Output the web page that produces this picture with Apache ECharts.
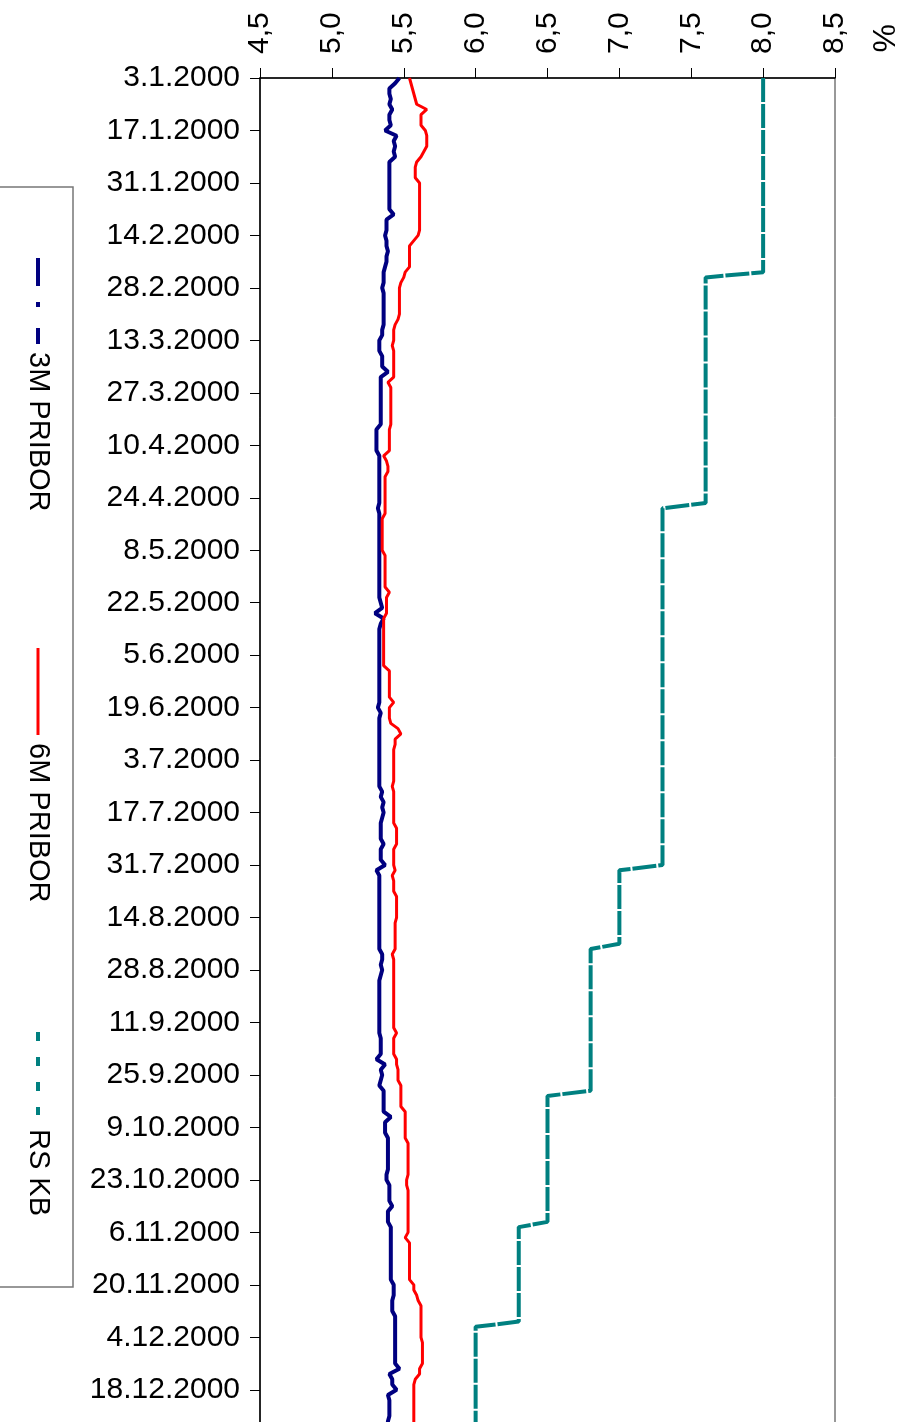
<!DOCTYPE html>
<html>
<head>
<meta charset="utf-8">
<script src="https://cdn.jsdelivr.net/npm/echarts@6/dist/echarts.min.js"></script>
<style>
  html, body { margin: 0; padding: 0; background: #fff; overflow: hidden; }
  /* plot runs on past the bottom edge of the picture, as in the original */
  #chart { width: 912px; height: 1437px; }
</style>
</head>
<body>
<div id="chart"></div>
<script>
// value axis ticks
var rateTicks = [4.5, 5.0, 5.5, 6.0, 6.5, 7.0, 7.5, 8.0, 8.5];

// trading days (Mon-Fri) 3.1.2000 - 29.12.2000
var firstDay = Date.UTC(2000, 0, 3);
var lastDay = Date.UTC(2000, 11, 29);
var days = [];
for (var t = firstDay; t <= lastDay; t += 86400000) {
    var d = new Date(t);
    var wd = d.getUTCDay();
    if (wd == 0 || wd == 6) continue;
    days.push(d.getUTCDate() + '.' + (d.getUTCMonth() + 1) + '.' + d.getUTCFullYear());
}

// 3M PRIBOR, one value per trading day (rows of two weeks)
var pribor3m = [
    5.47, 5.44, 5.40, 5.40, 5.41, 5.40, 5.42, 5.40, 5.40, 5.41,
    5.37, 5.45, 5.43, 5.44, 5.43, 5.44, 5.40, 5.40, 5.40, 5.40,
    5.40, 5.40, 5.40, 5.40, 5.40, 5.40, 5.43, 5.38, 5.38, 5.38,
    5.37, 5.38, 5.38, 5.39, 5.38, 5.38, 5.37, 5.36, 5.36, 5.36,
    5.35, 5.36, 5.36, 5.36, 5.36, 5.36, 5.36, 5.36, 5.35, 5.35,
    5.33, 5.33, 5.33, 5.35, 5.35, 5.35, 5.39, 5.34, 5.34, 5.34,
    5.34, 5.34, 5.34, 5.34, 5.34, 5.34, 5.34, 5.31, 5.31, 5.31,
    5.31, 5.31, 5.33, 5.33, 5.33, 5.33, 5.33, 5.33, 5.33, 5.33,
    5.33, 5.33, 5.32, 5.33, 5.33, 5.33, 5.33, 5.33, 5.33, 5.33,
    5.33, 5.33, 5.33, 5.33, 5.33, 5.33, 5.33, 5.33, 5.33, 5.33,
    5.34, 5.35, 5.30, 5.36, 5.34, 5.33, 5.33, 5.33, 5.33, 5.33,
    5.33, 5.33, 5.33, 5.33, 5.33, 5.33, 5.33, 5.33, 5.33, 5.33,
    5.32, 5.34, 5.33, 5.33, 5.33, 5.33, 5.33, 5.33, 5.33, 5.33,
    5.33, 5.33, 5.33, 5.33, 5.33, 5.33, 5.35, 5.34, 5.36, 5.35,
    5.36, 5.35, 5.34, 5.34, 5.34, 5.34, 5.36, 5.34, 5.34, 5.34,
    5.37, 5.31, 5.33, 5.33, 5.33, 5.33, 5.33, 5.33, 5.33, 5.33,
    5.33, 5.33, 5.33, 5.33, 5.33, 5.33, 5.33, 5.35, 5.35, 5.34,
    5.35, 5.34, 5.33, 5.33, 5.33, 5.33, 5.33, 5.33, 5.33, 5.33,
    5.33, 5.33, 5.33, 5.34, 5.34, 5.34, 5.34, 5.31, 5.37, 5.34,
    5.35, 5.34, 5.33, 5.36, 5.36, 5.36, 5.36, 5.36, 5.41, 5.37,
    5.37, 5.37, 5.39, 5.39, 5.39, 5.39, 5.39, 5.39, 5.39, 5.38,
    5.38, 5.40, 5.40, 5.40, 5.40, 5.42, 5.39, 5.39, 5.39, 5.41,
    5.41, 5.41, 5.41, 5.41, 5.41, 5.41, 5.41, 5.41, 5.41, 5.41,
    5.43, 5.43, 5.43, 5.42, 5.42, 5.42, 5.44, 5.44, 5.44, 5.44,
    5.44, 5.44, 5.44, 5.44, 5.44, 5.44, 5.47, 5.40, 5.42, 5.42,
    5.45, 5.39, 5.40, 5.40, 5.40, 5.40, 5.39, 5.39, 5.39, 5.39
];

// 6M PRIBOR
var pribor6m = [
    5.54, 5.55, 5.56, 5.57, 5.58, 5.59, 5.66, 5.62, 5.62, 5.62,
    5.65, 5.66, 5.66, 5.66, 5.64, 5.62, 5.59, 5.58, 5.58, 5.58,
    5.61, 5.61, 5.61, 5.61, 5.61, 5.61, 5.61, 5.61, 5.61, 5.61,
    5.60, 5.57, 5.54, 5.54, 5.54, 5.54, 5.54, 5.51, 5.50, 5.48,
    5.47, 5.47, 5.47, 5.47, 5.47, 5.47, 5.46, 5.44, 5.43, 5.43,
    5.43, 5.42, 5.43, 5.43, 5.43, 5.43, 5.43, 5.43, 5.39, 5.41,
    5.41, 5.41, 5.41, 5.41, 5.41, 5.41, 5.41, 5.40, 5.40, 5.40,
    5.40, 5.40, 5.36, 5.38, 5.39, 5.39, 5.37, 5.37, 5.37, 5.37,
    5.37, 5.37, 5.37, 5.37, 5.35, 5.35, 5.35, 5.35, 5.35, 5.35,
    5.35, 5.37, 5.37, 5.37, 5.37, 5.37, 5.37, 5.37, 5.40, 5.38,
    5.38, 5.38, 5.38, 5.36, 5.36, 5.36, 5.36, 5.36, 5.36, 5.36,
    5.36, 5.36, 5.36, 5.40, 5.40, 5.40, 5.40, 5.40, 5.40, 5.43,
    5.40, 5.40, 5.40, 5.41, 5.46, 5.48, 5.44, 5.44, 5.43, 5.43,
    5.43, 5.43, 5.43, 5.43, 5.43, 5.42, 5.43, 5.43, 5.43, 5.43,
    5.43, 5.43, 5.43, 5.45, 5.45, 5.45, 5.45, 5.43, 5.43, 5.43,
    5.43, 5.44, 5.42, 5.43, 5.43, 5.43, 5.45, 5.45, 5.45, 5.45,
    5.45, 5.44, 5.44, 5.44, 5.44, 5.44, 5.44, 5.42, 5.43, 5.43,
    5.43, 5.43, 5.43, 5.43, 5.43, 5.43, 5.43, 5.43, 5.43, 5.43,
    5.43, 5.43, 5.45, 5.43, 5.43, 5.43, 5.43, 5.45, 5.45, 5.46,
    5.46, 5.46, 5.48, 5.48, 5.48, 5.48, 5.48, 5.51, 5.51, 5.51,
    5.51, 5.51, 5.51, 5.53, 5.53, 5.53, 5.53, 5.53, 5.53, 5.53,
    5.52, 5.52, 5.53, 5.53, 5.53, 5.53, 5.53, 5.53, 5.53, 5.53,
    5.53, 5.51, 5.54, 5.54, 5.54, 5.54, 5.54, 5.54, 5.54, 5.54,
    5.57, 5.57, 5.59, 5.60, 5.62, 5.62, 5.62, 5.62, 5.62, 5.62,
    5.62, 5.63, 5.63, 5.63, 5.63, 5.63, 5.61, 5.61, 5.58, 5.57,
    5.57, 5.57, 5.57, 5.57, 5.57, 5.57, 5.57, 5.57, 5.57, 5.57
];

// RS KB: first and last day of every rate level
var rsDates = ['3.1.2000', '23.2.2000', '24.2.2000', '25.4.2000', '26.4.2000', '31.7.2000',
    '1.8.2000', '21.8.2000', '22.8.2000', '28.9.2000', '29.9.2000', '2.11.2000',
    '3.11.2000', '29.11.2000', '30.11.2000', '29.12.2000'];
var rsValues = [8.0, 8.0, 7.6, 7.6, 7.3, 7.3, 7.0, 7.0, 6.8, 6.8, 6.5, 6.5, 6.3, 6.3, 6.0, 6.0];

var seriesNames = ['3M PRIBOR', '6M PRIBOR', 'RS KB'];

var rsData = [];
for (var i = 0; i < rsDates.length; i++) {
    rsData.push([rsValues[i], rsDates[i]]);
}

var FONT = 'Liberation Sans, Arial, sans-serif';
var FS = 30;

var myChart = echarts.init(document.getElementById('chart'));

var option = {
    animation: false,
    backgroundColor: '#fff',
    grid: {
        left: 260,
        right: 77,
        top: 78,
        bottom: 0,
        show: true,
        borderColor: '#333',
        borderWidth: 1
    },
    xAxis: {
        type: 'value',
        position: 'top',
        min: rateTicks[0],
        max: rateTicks[rateTicks.length - 1],
        interval: 0.5,
        splitLine: { show: false },
        axisLine: { show: true, lineStyle: { color: '#000', width: 1.5 } },
        axisTick: { show: true, length: 10, lineStyle: { color: '#000' } },
        axisLabel: {
            rotate: -90,
            margin: 24,
            color: '#000',
            fontFamily: FONT,
            fontSize: FS,
            formatter: function (v) { return v.toFixed(1).replace('.', ','); }
        }
    },
    yAxis: {
        type: 'category',
        inverse: true,
        boundaryGap: false,
        data: days,
        axisLine: { show: true, lineStyle: { color: '#000', width: 1.5 } },
        axisTick: { show: true, interval: 9, length: 10, lineStyle: { color: '#000' } },
        axisLabel: {
            interval: 9,
            margin: 20,
            color: '#000',
            fontFamily: FONT,
            fontSize: FS
        },
        splitLine: { show: false }
    },
    series: [
        {
            name: seriesNames[0],
            type: 'line',
            data: pribor3m.map(function (v, k) { return [v, days[k]]; }),
            showSymbol: false,
            lineStyle: { color: '#000080', width: 4 },
            itemStyle: { color: '#000080' }
        },
        {
            name: seriesNames[1],
            type: 'line',
            data: pribor6m.map(function (v, k) { return [v, days[k]]; }),
            showSymbol: false,
            lineStyle: { color: '#ff0000', width: 3 },
            itemStyle: { color: '#ff0000' }
        },
        {
            name: seriesNames[2],
            type: 'line',
            data: rsData,
            showSymbol: false,
            lineStyle: { color: '#008080', width: 4, type: [24, 2] },
            itemStyle: { color: '#008080' }
        }
    ],
    graphic: [
        // unit label
        {
            type: 'text', x: 882, y: 24, rotation: -Math.PI / 2,
            style: { text: '%', font: '32px ' + FONT, fill: '#000', textAlign: 'left', textVerticalAlign: 'middle' }
        },
        // legend box (rotated legend)
        {
            type: 'rect', shape: { x: -2, y: 187, width: 75, height: 1100 },
            style: { fill: 'none', stroke: '#777', lineWidth: 1.5 }
        },
        {
            type: 'line', shape: { x1: 38, y1: 258, x2: 38, y2: 344 },
            style: { stroke: '#000080', lineWidth: 4, lineDash: [28, 16, 5, 21] }
        },
        {
            type: 'text', x: 38, y: 352, rotation: -Math.PI / 2,
            style: { text: seriesNames[0], font: '29px ' + FONT, fill: '#000', textAlign: 'left', textVerticalAlign: 'middle' }
        },
        {
            type: 'line', shape: { x1: 38, y1: 648, x2: 38, y2: 735 },
            style: { stroke: '#ff0000', lineWidth: 3 }
        },
        {
            type: 'text', x: 38, y: 743, rotation: -Math.PI / 2,
            style: { text: seriesNames[1], font: '29px ' + FONT, fill: '#000', textAlign: 'left', textVerticalAlign: 'middle' }
        },
        {
            type: 'line', shape: { x1: 38, y1: 1032, x2: 38, y2: 1115 },
            style: { stroke: '#008080', lineWidth: 4, lineDash: [9, 16] }
        },
        {
            type: 'text', x: 38, y: 1129, rotation: -Math.PI / 2,
            style: { text: seriesNames[2], font: '29px ' + FONT, fill: '#000', textAlign: 'left', textVerticalAlign: 'middle' }
        }
    ]
};

myChart.setOption(option);
</script>
</body>
</html>
